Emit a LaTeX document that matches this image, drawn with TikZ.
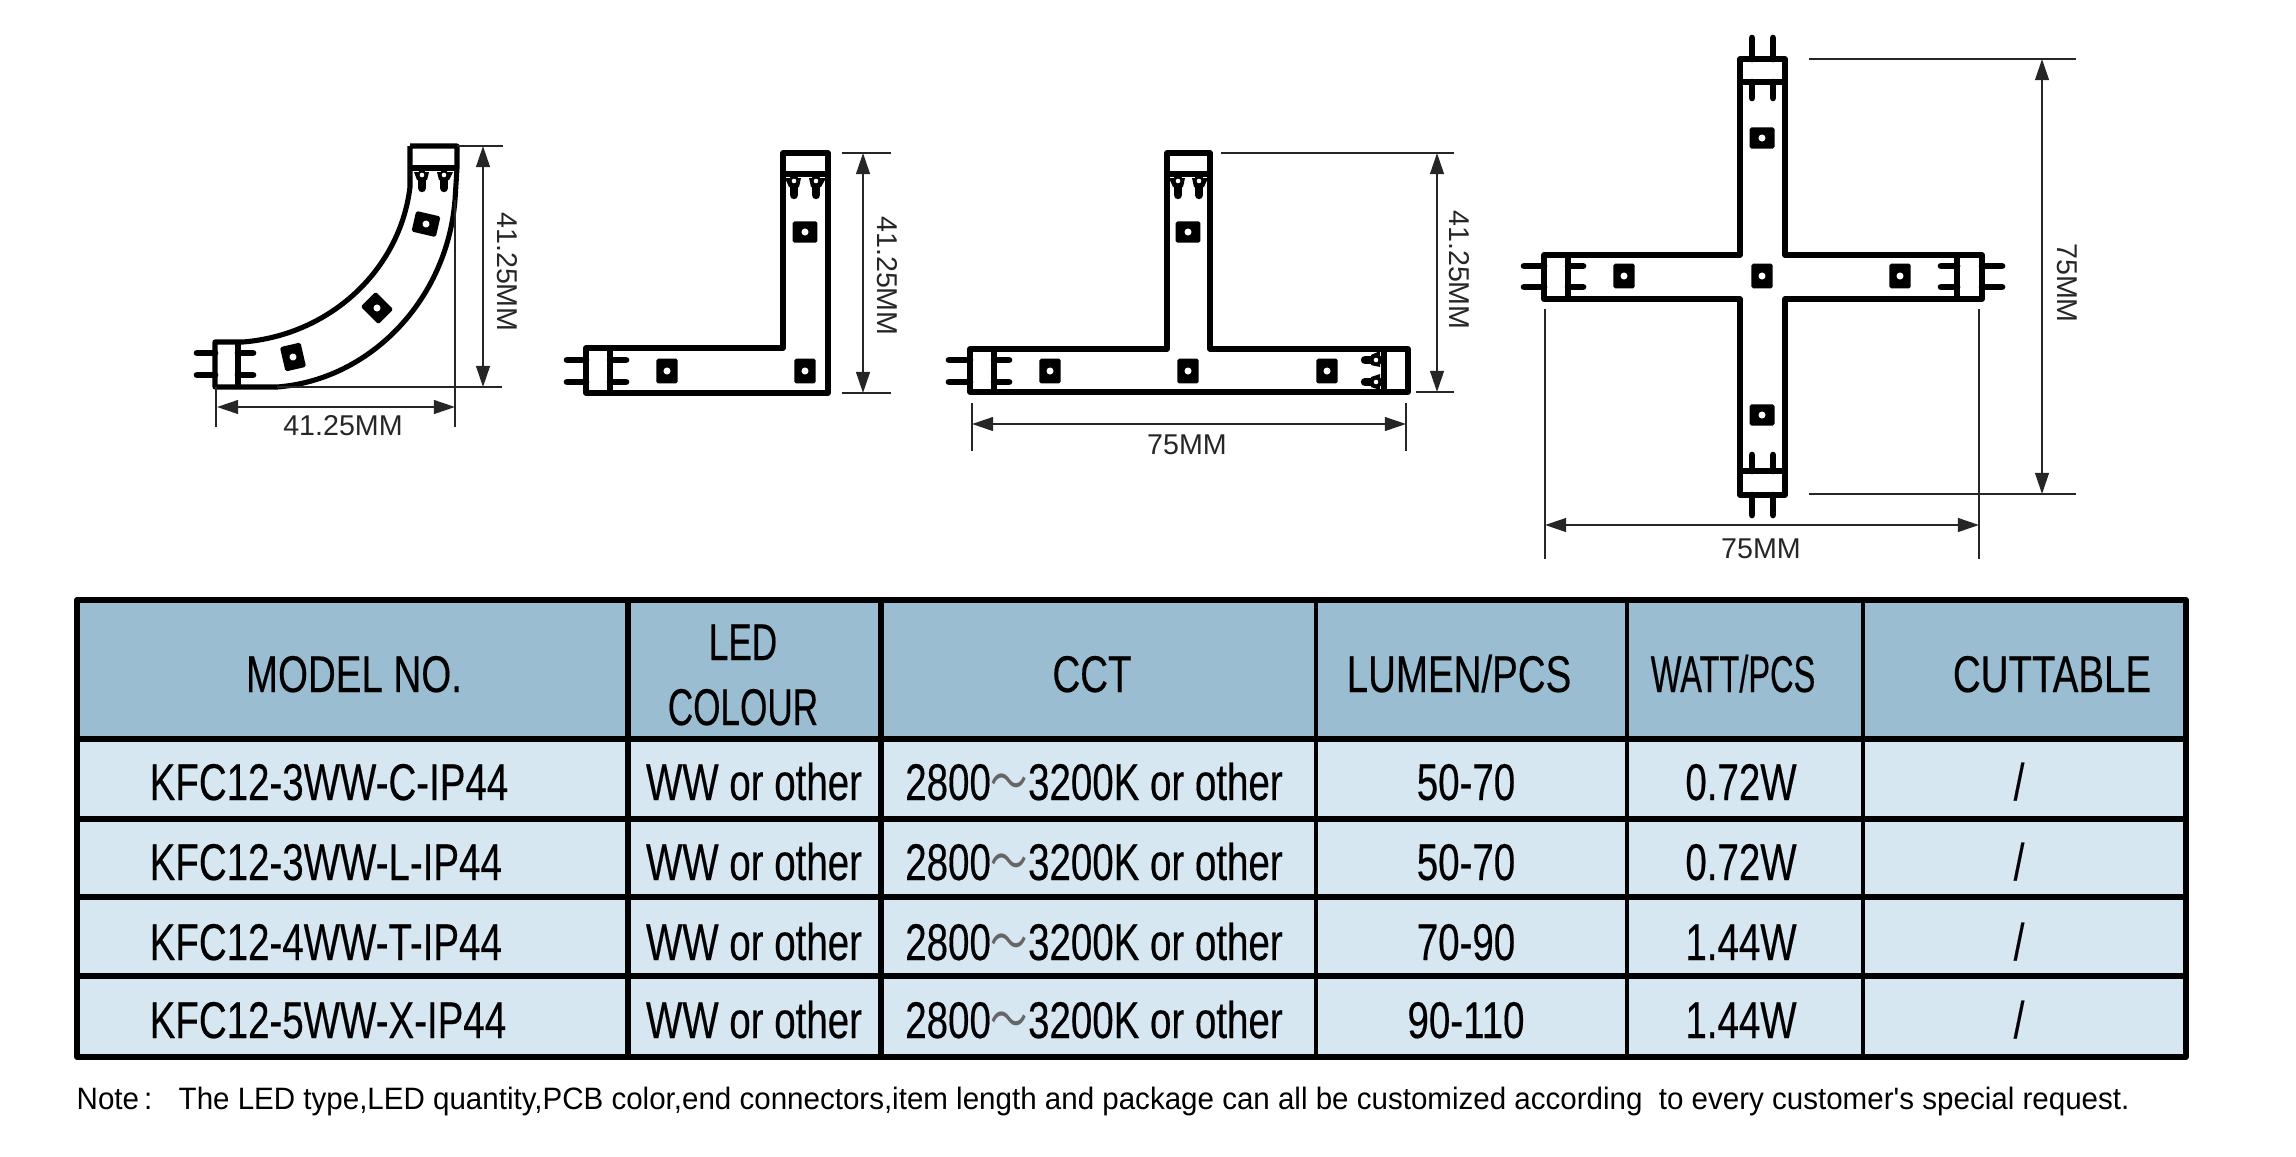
\documentclass[tikz,border=0pt]{standalone}
\usepackage{fontspec}
\setmainfont{Liberation Sans}
\newfontfamily\tablefont[FakeStretch=0.745, FakeBold=0.3]{Liberation Sans}
\newfontfamily\wattfont[FakeStretch=0.63, FakeBold=0.3]{Liberation Sans}
\newfontfamily\ledfont[FakeStretch=0.68, FakeBold=0.3]{Liberation Sans}
\newfontfamily\notefont[FakeStretch=0.955]{Liberation Sans}
\newfontfamily\cjkfont[FakeStretch=0.72]{Noto Sans CJK SC}
\usetikzlibrary{arrows.meta}
\definecolor{headblue}{HTML}{9BBDD1}
\definecolor{rowblue}{HTML}{D6E7F2}
\definecolor{dimgray}{HTML}{262626}
\tikzset{
	strip/.style={line width=1.45pt, line join=round},
	extline/.style={line width=0.4pt, draw=dimgray},
	dimline/.style={line width=0.6pt, draw=dimgray, <->},
	dimtext/.style={font=\fontsize{8.15}{9}\selectfont, text=dimgray, inner sep=0pt},
	pin/.style={line width=1.9pt, line cap=round},
	fatpin/.style={line width=2.4pt, line cap=round},
	pinhole/.style={fill=white},
	ledchip/.style={fill=black, inner sep=0pt, rounded corners=0.5pt, path picture={\fill[white] (path picture bounding box.center) circle (1pt);}},
	chipwide/.style={ledchip, minimum width=7.1pt, minimum height=6pt},
	chiptall/.style={ledchip, minimum width=6pt, minimum height=7.1pt},
	tabletext/.style={font=\tablefont\fontsize{14.7}{16}\selectfont, inner sep=0pt, anchor=base},
	notetext/.style={font=\notefont\fontsize{8.8}{10}\selectfont, inner sep=0pt, anchor=base west},
}
\newcommand{\thintilde}{{\color{black!60}\cjkfont ～}}
\begin{document}
\begin{tikzpicture}[x=0.1mm, y=-0.1mm, line join=round, line cap=butt, >={Triangle[length=6pt, width=3.9pt]}]
	\useasboundingbox (0,0) rectangle (2296,1156);
	% Curved piece
	\fill (414,172)--(429,172)--(427,180)--(417,180)--cycle;
	\fill (437,172)--(453,172)--(449,180)--(439,180)--cycle;
	\draw[fatpin] (422,174)--(422,188);
	\draw[fatpin] (444,174)--(444,188);
	\fill[pinhole] (422,175) circle (0.65pt) (444,175) circle (0.65pt);
	\draw[pin] (197,353)--(215,353);
	\draw[pin] (197,375)--(215,375);
	\draw[pin] (238,353)--(253,353);
	\draw[pin] (238,375)--(253,375);
	\draw[strip] (410,146)--(457,146)--(457,168)--(455,200).. controls (447,300) and (370,380) .. (277,387)--(215,387)--(215,342)--(243,342).. controls (330,335) and (400,270) .. (410,187)--(410,146);
	\draw[strip] (410,168)--(457,168);
	\draw[strip] (238,342)--(238,387);
	\node[chipwide, rotate=-13] (curveA) at (426,224) {};
	\node[chipwide, rotate=-45] (curveB) at (377,308) {};
	\node[chiptall, rotate=13] (curveC) at (293,357) {};
	\coordinate (curveTop) at (457,146);
	\coordinate (curveTopEnd) at (503,146);
	\coordinate (curveLow) at (277,387);
	\coordinate (curveLowEnd) at (502,387);
	\draw[extline] (curveTop)--(curveTopEnd);
	\draw[extline, line width=0.6pt] (curveLow)--(curveLowEnd);
	\draw[extline] (216,387)--(216,427);
	\draw[extline, line width=0.6pt] (455,200)--(455,427);
	\draw[dimline] (483,146)--(483,387);
	\draw[dimline] (217,407)--(455,407);
	\node[dimtext, rotate=-90] (curveHigh) at (507,272) {41.25MM};
	\node[dimtext] (curveWide) at (343,426) {41.25MM};
	% L piece
	\fill (785,178)--(801,178)--(799,187)--(789,187)--cycle;
	\fill (809,178)--(826,178)--(821,187)--(811,187)--cycle;
	\draw[fatpin] (794,178)--(794,195);
	\draw[fatpin] (816,178)--(816,195);
	\fill[pinhole] (794,181) circle (0.65pt) (816,181) circle (0.65pt);
	\draw[pin] (567,360)--(586,360);
	\draw[pin] (567,382)--(586,382);
	\draw[pin] (610,360)--(626,360);
	\draw[pin] (610,382)--(626,382);
	\draw[strip] (783,153)--(828,153)--(828,393)--(586,393)--(586,348)--(783,348)--cycle;
	\draw[strip] (783,174)--(828,174);
	\draw[strip] (610,348)--(610,393);
	\node[chipwide] (ellA) at (805,232) {};
	\node[chiptall] (ellB) at (805,371) {};
	\node[chiptall] (ellC) at (667,371) {};
	\draw[extline] (842,153)--(891,153);
	\draw[extline] (842,393)--(891,393);
	\draw[dimline] (863,153)--(863,393);
	\node[dimtext, rotate=-90] (ellHigh) at (887,276) {41.25MM};
	% T piece
	\fill (1169,178)--(1185,178)--(1183,187)--(1173,187)--cycle;
	\fill (1192,178)--(1208,178)--(1204,187)--(1194,187)--cycle;
	\draw[fatpin] (1178,178)--(1178,195);
	\draw[fatpin] (1199,178)--(1199,195);
	\fill[pinhole] (1178,181) circle (0.65pt) (1199,181) circle (0.65pt);
	\draw[pin] (949,360)--(970,360);
	\draw[pin] (949,382)--(970,382);
	\draw[pin] (994,360)--(1009,360);
	\draw[pin] (994,382)--(1009,382);
	\fill (1380,351)--(1380,367)--(1371,365)--(1371,355)--cycle;
	\fill (1380,374)--(1380,390)--(1371,387)--(1371,377)--cycle;
	\draw[fatpin] (1380,360)--(1365,360);
	\draw[fatpin] (1380,382)--(1365,382);
	\fill[pinhole] (1376,360) circle (0.65pt) (1376,382) circle (0.65pt);
	\draw[strip] (1167,153)--(1210,153)--(1210,349)--(1408,349)--(1408,392)--(970,392)--(970,349)--(1167,349)--cycle;
	\draw[strip] (1167,174)--(1210,174);
	\draw[strip] (994,349)--(994,392);
	\draw[strip] (1384,349)--(1384,392);
	\node[chipwide] (teeA) at (1188,232) {};
	\node[chiptall] (teeB) at (1050,371) {};
	\node[chiptall] (teeC) at (1188,371) {};
	\node[chiptall] (teeD) at (1327,371) {};
	\draw[extline] (1221,153)--(1454,153);
	\draw[extline] (1416,392)--(1454,392);
	\draw[dimline] (1437,153)--(1437,392);
	\node[dimtext, rotate=-90] (teeHigh) at (1459,270) {41.25MM};
	\draw[extline] (972,403)--(972,451);
	\draw[extline] (1406,403)--(1406,451);
	\draw[dimline] (972,424)--(1406,424);
	\node[dimtext] (teeWide) at (1187,445) {75MM};
	% X piece
	\draw[pin] (1752,38)--(1752,59);
	\draw[pin] (1773,38)--(1773,59);
	\draw[pin] (1752,82)--(1752,98);
	\draw[pin] (1773,82)--(1773,98);
	\draw[pin] (1752,471)--(1752,455);
	\draw[pin] (1773,471)--(1773,455);
	\draw[pin] (1752,495)--(1752,515);
	\draw[pin] (1773,495)--(1773,515);
	\draw[pin] (1524,266)--(1544,266);
	\draw[pin] (1524,287)--(1544,287);
	\draw[pin] (1568,266)--(1583,266);
	\draw[pin] (1568,287)--(1583,287);
	\draw[pin] (1957,266)--(1941,266);
	\draw[pin] (1957,287)--(1941,287);
	\draw[pin] (1982,266)--(2002,266);
	\draw[pin] (1982,287)--(2002,287);
	\draw[strip] (1740,59)--(1785,59)--(1785,255)--(1982,255)--(1982,299)--(1785,299)--(1785,495)--(1740,495)--(1740,299)--(1544,299)--(1544,255)--(1740,255)--cycle;
	\draw[strip] (1740,82)--(1785,82);
	\draw[strip] (1740,471)--(1785,471);
	\draw[strip] (1568,255)--(1568,299);
	\draw[strip] (1957,255)--(1957,299);
	\node[chipwide] (crossA) at (1762,138) {};
	\node[chipwide] (crossB) at (1762,415) {};
	\node[chiptall] (crossC) at (1624,276) {};
	\node[chiptall] (crossD) at (1762,276) {};
	\node[chiptall] (crossE) at (1900,276) {};
	\draw[extline] (1809,59)--(2076,59);
	\draw[extline] (1809,494)--(2076,494);
	\draw[dimline] (2042,59)--(2042,494);
	\node[dimtext, rotate=-90] (crossHigh) at (2067,283) {75MM};
	\draw[extline] (1545,309)--(1545,559);
	\draw[extline] (1979,309)--(1979,559);
	\draw[dimline] (1545,525)--(1979,525);
	\node[dimtext] (crossWide) at (1761,549) {75MM};
	% Table
	\fill[headblue] (77,600) rectangle (2186,739);
	\fill[rowblue] (77,739) rectangle (2186,1057);
	\draw[line width=1.5pt] (77,819)--(2186,819) (77,897)--(2186,897) (77,976)--(2186,976) (77,739)--(2186,739);
	\draw[line width=1.5pt] (628,600)--(628,1057) (881,600)--(881,1057);
	\draw[line width=1pt] (1316,600)--(1316,1057) (1627,600)--(1627,1057) (1863,600)--(1863,1057);
	\draw[line width=1.5pt] (77,600) rectangle (2186,1057);
	% Table heads
	\node[tabletext] (headModel) at (354,692) {MODEL NO.};
	\node[tabletext, font=\ledfont\fontsize{14.7}{16}\selectfont] (headLed) at (743,660) {LED};
	\node[tabletext, font=\ledfont\fontsize{14.7}{16}\selectfont] (headColour) at (743,725) {COLOUR};
	\node[tabletext] (headCct) at (1092,692) {CCT};
	\node[tabletext] (headLumen) at (1459,692) {LUMEN/PCS};
	\node[tabletext, font=\wattfont\fontsize{14.7}{16}\selectfont] (headWatt) at (1733,692) {WATT/PCS};
	\node[tabletext] (headCut) at (2052,692) {CUTTABLE};
	% Row 1
	\node[tabletext, anchor=base west] (modelA) at (149,800) {KFC12-3WW-C-IP44};
	\node[tabletext] (colourA) at (754,800) {WW or other};
	\node[tabletext] (cctA) at (1094,800) {2800\thintilde 3200K or other};
	\node[tabletext] (lumenA) at (1466,800) {50-70};
	\node[tabletext] (wattA) at (1741,800) {0.72W};
	\node[tabletext] (cutA) at (2019,800) {/};
	% Row 2
	\node[tabletext, anchor=base west] (modelB) at (149,880) {KFC12-3WW-L-IP44};
	\node[tabletext] (colourB) at (754,880) {WW or other};
	\node[tabletext] (cctB) at (1094,880) {2800\thintilde 3200K or other};
	\node[tabletext] (lumenB) at (1466,880) {50-70};
	\node[tabletext] (wattB) at (1741,880) {0.72W};
	\node[tabletext] (cutB) at (2019,880) {/};
	% Row 3
	\node[tabletext, anchor=base west] (modelC) at (149,960) {KFC12-4WW-T-IP44};
	\node[tabletext] (colourC) at (754,960) {WW or other};
	\node[tabletext] (cctC) at (1094,960) {2800\thintilde 3200K or other};
	\node[tabletext] (lumenC) at (1466,960) {70-90};
	\node[tabletext] (wattC) at (1741,960) {1.44W};
	\node[tabletext] (cutC) at (2019,960) {/};
	% Row 4
	\node[tabletext, anchor=base west] (modelD) at (149,1038) {KFC12-5WW-X-IP44};
	\node[tabletext] (colourD) at (754,1038) {WW or other};
	\node[tabletext] (cctD) at (1094,1038) {2800\thintilde 3200K or other};
	\node[tabletext] (lumenD) at (1466,1038) {90-110};
	\node[tabletext] (wattD) at (1741,1038) {1.44W};
	\node[tabletext] (cutD) at (2019,1038) {/};
	% Note
	\node[notetext] (noteHead) at (76,1109) {Note\,:};
	\node[notetext] (noteBody) at (178,1109) {The LED type,LED quantity,PCB color,end connectors,item length and package can all be customized according\ \ to every customer\textquotesingle s special request.};
\end{tikzpicture}
\end{document}
